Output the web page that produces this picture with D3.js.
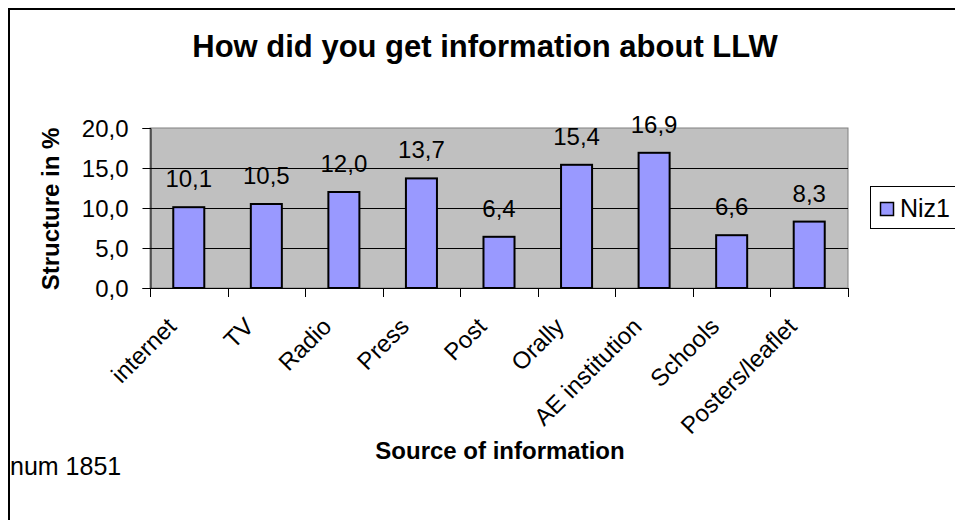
<!DOCTYPE html>
<html>
<head>
<meta charset="utf-8">
<script src="https://cdn.jsdelivr.net/npm/d3@7"></script>
<style>
  html, body { margin: 0; padding: 0; background: #fff; }
  svg { display: block; font-family: "Liberation Sans", Arial, sans-serif; }
</style>
</head>
<body>
<svg id="chart" width="955" height="520"></svg>
<script>
// Survey answers: where respondents heard about LLW (share in %)
const categories = ["internet", "TV", "Radio", "Press", "Post", "Orally", "AE institution", "Schools", "Posters/leaflet"];
const values = [10.1, 10.5, 12.0, 13.7, 6.4, 15.4, 16.9, 6.6, 8.3];
const yTicks = [0, 5, 10, 15, 20];
const seriesName = "Niz1";
const titleText = "How did you get information about LLW";
const xTitle = "Source of information";
const yTitle = "Structure in %";
const noteText = "num 1851";

const fmt = v => d3.format(".1f")(v).replace(".", ",");

const svg = d3.select("#chart");
const plot = { left: 150, right: 848, top: 128, bottom: 288 };

const x = d3.scaleBand().domain(categories).range([plot.left, plot.right]);
const y = d3.scaleLinear().domain([0, 20]).range([plot.bottom, plot.top]);

// chart frame (continues past the right and bottom edges)
svg.append("rect")
  .attr("x", 9).attr("y", 9).attr("width", 1000).attr("height", 600)
  .attr("fill", "none").attr("stroke", "#000").attr("stroke-width", 2);

// title
svg.append("text")
  .attr("x", 485).attr("y", 57)
  .attr("text-anchor", "middle")
  .attr("font-size", 31).attr("font-weight", "bold")
  .text(titleText);

// plot area background
svg.append("rect")
  .attr("x", plot.left).attr("y", plot.top)
  .attr("width", plot.right - plot.left).attr("height", plot.bottom - plot.top)
  .attr("fill", "#C0C0C0").attr("stroke", "#808080").attr("stroke-width", 1);

// horizontal gridlines
svg.append("g").selectAll("line")
  .data(yTicks.filter(t => t > 0 && t < 20))
  .join("line")
  .attr("x1", plot.left).attr("x2", plot.right)
  .attr("y1", d => y(d) + 0.5).attr("y2", d => y(d) + 0.5)
  .attr("stroke", "#000").attr("stroke-width", 1);

// bars
const barW = x.bandwidth() * 0.4;
svg.append("g").selectAll("rect")
  .data(values)
  .join("rect")
  .attr("x", (d, i) => x(categories[i]) + x.bandwidth() / 2 - barW / 2)
  .attr("y", d => y(d))
  .attr("width", barW)
  .attr("height", d => plot.bottom - y(d))
  .attr("fill", "#9999FF").attr("stroke", "#000").attr("stroke-width", 2);

// value labels
svg.append("g").selectAll("text")
  .data(values)
  .join("text")
  .attr("x", (d, i) => x(categories[i]) + x.bandwidth() / 2)
  .attr("y", d => y(d) - 20)
  .attr("text-anchor", "middle")
  .attr("font-size", 24)
  .text(d => fmt(d));

// y axis
const yAxis = svg.append("g")
  .attr("transform", `translate(${plot.left + 0.5},0)`)
  .call(d3.axisLeft(y).tickValues(yTicks).tickSize(8).tickPadding(14).tickFormat(fmt));
yAxis.select(".domain").attr("stroke", "#000").attr("stroke-width", 1);
yAxis.selectAll(".tick line").attr("stroke", "#000");
yAxis.selectAll(".tick text")
  .attr("font-size", 24).attr("font-family", "Liberation Sans, Arial, sans-serif")
  .attr("fill", "#000").attr("dy", "0.36em");

// x axis: ticks at category boundaries
const bounds = categories.map(c => x(c)).concat([plot.right]);
svg.append("line")
  .attr("x1", plot.left).attr("x2", plot.right)
  .attr("y1", plot.bottom + 0.5).attr("y2", plot.bottom + 0.5)
  .attr("stroke", "#000");
svg.append("g").selectAll("line")
  .data(bounds)
  .join("line")
  .attr("x1", d => Math.round(d) + 0.5).attr("x2", d => Math.round(d) + 0.5)
  .attr("y1", plot.bottom).attr("y2", plot.bottom + 9)
  .attr("stroke", "#000");

// rotated category labels
svg.append("g").selectAll("text")
  .data(categories)
  .join("text")
  .attr("transform", d => `translate(${x(d) + x.bandwidth() / 2 - 11},328) rotate(-45)`)
  .attr("text-anchor", "end")
  .attr("font-size", 24)
  .text(d => d);

// axis titles
svg.append("text")
  .attr("x", 500).attr("y", 459)
  .attr("text-anchor", "middle")
  .attr("font-size", 24).attr("font-weight", "bold")
  .text(xTitle);

svg.append("text")
  .attr("transform", "translate(59,209) rotate(-90)")
  .attr("text-anchor", "middle")
  .attr("font-size", 24).attr("font-weight", "bold")
  .text(yTitle);

// legend
svg.append("rect")
  .attr("x", 870.5).attr("y", 186.5).attr("width", 120).attr("height", 42)
  .attr("fill", "#fff").attr("stroke", "#000").attr("stroke-width", 1);
svg.append("rect")
  .attr("x", 880.5).attr("y", 202.5).attr("width", 13).attr("height", 13)
  .attr("fill", "#9999FF").attr("stroke", "#000").attr("stroke-width", 1.5);
svg.append("text")
  .attr("x", 900).attr("y", 217)
  .attr("font-size", 25)
  .text(seriesName);

// sample size note
svg.append("text")
  .attr("x", 10).attr("y", 475)
  .attr("font-size", 25)
  .text(noteText);
</script>
</body>
</html>
